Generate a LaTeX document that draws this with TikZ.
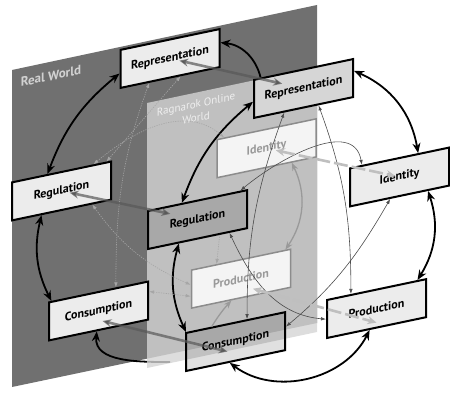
\documentclass[tikz,border=0pt]{standalone}
\usepackage{fontspec}
\setmainfont{PT Sans}
\usetikzlibrary{arrows.meta,calc,backgrounds}

\definecolor{realgray}{RGB}{112,112,112}
\definecolor{planegray}{RGB}{212,212,212}
\definecolor{boxlight}{RGB}{236,236,236}
\definecolor{boxfront}{RGB}{214,214,214}
\definecolor{boxfade}{RGB}{244,244,244}

\tikzset{
  realbox/.style={draw,line width=2pt,fill=boxlight,minimum width=99pt,minimum height=38pt,inner sep=0pt,yslant=0.21,font=\bfseries\fontsize{12}{12}\selectfont},
  frontbox/.style={realbox,fill=boxfront},
  glassbox/.style={realbox,fill=black,fill opacity=0.12,text opacity=1},
  fadebox/.style={realbox,draw=black!45,line width=1.5pt,fill=boxfade,text=black!40},
  ringarrow/.style={line width=1.8pt,{Stealth[length=10pt,width=8pt]}-{Stealth[length=10pt,width=8pt]}},
  pair/.style={line width=2.6pt,draw=black!65,draw opacity=0.7,{Stealth[length=9pt,width=8pt]}-{Stealth[length=9pt,width=8pt]}},
  fadepair/.style={pair,draw=black!25,draw opacity=1,dash pattern=on 14pt off 4pt},
  link/.style={line width=0.6pt,draw=black!70,{Latex[length=5pt,width=3.5pt]}-{Latex[length=5pt,width=3.5pt]}},
  faintlink/.style={link,draw=black!35,dash pattern=on 1.2pt off 1.2pt}
}

\begin{document}
\begin{tikzpicture}[x=1pt,y=-1pt]
\useasboundingbox (0,0) rectangle (450,396);

% real world ring
\node[realbox] (repR) at (170,58.5) {Representation};
\node[realbox] (regR) at (61.5,191) {Regulation};
\node[realbox] (consR) at (98.5,311) {Consumption};
\node[realbox] (idR) at (399.5,177) {Identity};
\node[realbox] (prodR) at (376.5,308.6) {Production};

% online world ring
\node[frontbox] (repF) at (303.5,88.5) {Representation};
\node[glassbox] (regF) at (197.5,219.6) {Regulation};
\node[glassbox] (consF) at (235.5,341.6) {Consumption};
\node[fadebox] (idL) at (266.5,148.3) {Identity};
\node[fadebox] (prodL) at (241,278.7) {Production};

\node[yslant=0.21,text=black!18,font=\bfseries\fontsize{13}{13}\selectfont] (realLabel) at (51,76) {Real World};
\node[yslant=0.21,text=white,text opacity=0.75,align=center,font=\fontsize{11}{14}\selectfont] (gameLabel) at (196,111) {Ragnarok Online\\World};

\begin{scope}[on background layer]
  \fill[realgray] (12,70) -- (317,5) -- (317,323) -- (12,387) -- cycle;
  \coordinate (under) at (170,362);
  \draw[line width=1.8pt,{Stealth[length=10pt,width=8pt]}-] (consR.265) to[out=265,in=180] (under);
  \fill[planegray,opacity=0.8] (147,103) -- (317,67) -- (317,332) -- (147,368) -- cycle;
  \draw[line width=1.8pt,-{Stealth[length=10pt,width=8pt]}] (repF.155) to[bend right=35] (repR.6);
\end{scope}

% thick ring arrows
\draw[ringarrow] (repR.185) to[bend right=15] (regR.125);
\draw[ringarrow] (regR.225) to[bend right=20] (consR.157);
\draw[ringarrow] (repF.8) to[bend left=28] (idR.47);
\draw[ringarrow] (idR.325) to[bend left=25] (prodR.26);
\draw[ringarrow] (prodR.251) to[bend left=50] (consF.254);
\draw[ringarrow] (repF.183) to[bend right=15] (regF.128);
\draw[ringarrow] (regF.227) to[bend right=20] (consF.158);

% thin cross links
\draw[faintlink] (repR.224) to[out=250,in=90] (consR.49);
\draw[faintlink] (repR.298) -- (regR.24);
\draw[faintlink] (regR.32) to[out=40,in=140] (idL.155);
\draw[faintlink] (regR.327) to[bend right=15] (prodL.175);
\draw[faintlink] (consR.10) -- (prodL.188);
\draw[faintlink,{Latex[length=5pt,width=3.5pt]}-] (prodL.141) -- (regF.318);
\draw[link] (repF.226) to[out=250,in=90] (consF.60);
\draw[link] (repF.307) to[out=290,in=90] (prodR.142);
\draw[link] (regF.25) to[out=40,in=100] (idR.152);
\draw[link] (idR.245) to[out=240,in=40] (consF.5);
\draw[link] (regF.328) to[out=-65,in=175] (prodR.180);
\draw[line width=1.3pt,draw=black!40,{Stealth[length=8pt,width=6pt]}-{Stealth[length=8pt,width=6pt]}] (idL.322) to[bend left=30] (prodL.24);
\draw[line width=1.3pt,draw=black!40,-{Stealth[length=8pt,width=6pt]}] (consF.140) to[bend left=5] (prodL.244);

% gray links between the two worlds
\draw[pair] ($(repR)!0.07!(repF)$) -- ($(repR)!0.84!(repF)$);
\draw[pair] ($(regR)!0.06!(regF)$) -- ($(regR)!0.8!(regF)$);
\draw[pair] ($(consR)+(4,10)$) -- ($(consF)+(-8,10)$);
\draw[fadepair] ($(idL)!0.07!(idR)$) -- ($(idL)!0.97!(idR)$);
\draw[fadepair] ($(prodL)+(12,10)$) -- ($(prodR)+(0,14)$);

\end{tikzpicture}
\end{document}
